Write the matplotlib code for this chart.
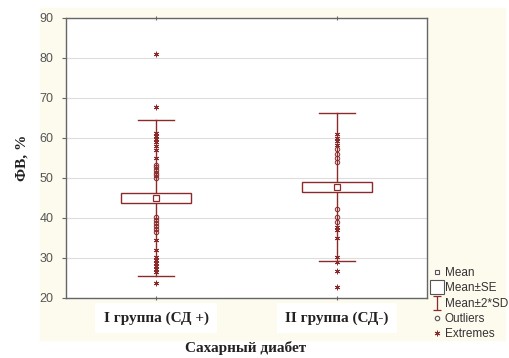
import numpy as np
import matplotlib.pyplot as plt
from matplotlib.patches import Rectangle
from matplotlib.lines import Line2D
from matplotlib.path import Path

groups = ["I группа (СД +)", "II группа (СД-)"]
means = [45.0, 47.8]
se = [1.15, 1.2]
sd2 = [19.6, 18.5]

outliers_1 = [50.0, 50.7, 51.3, 52.0, 52.7, 53.3, 36.6, 37.3, 38.0, 38.8, 39.5, 40.3]
extremes_1 = [81.0, 67.8, 61.3, 60.5, 59.8, 59.0, 58.0, 57.0, 55.0,
              34.5, 32.0, 30.3, 29.5, 28.8, 28.0, 27.3, 26.6, 23.8]
outliers_2 = [54.0, 55.0, 56.0, 57.2, 42.2, 40.3, 39.0]
extremes_2 = [61.0, 60.0, 59.2, 58.3, 37.7, 37.0, 34.9, 30.2, 29.0, 26.8, 22.8]

outliers = [outliers_1, outliers_2]
extremes = [extremes_1, extremes_2]

red = "#8b2a2a"
gray = "#555555"
serif = ["Liberation Serif", "DejaVu Serif"]
sans = ["Liberation Sans", "DejaVu Sans"]

fig = plt.figure(figsize=(5.09, 3.58), dpi=100)
fig.patch.set_facecolor("white")
bg = Rectangle((40/509, 18/358), 465/509, 332/358,
               transform=fig.transFigure, color="#fdfaee", zorder=-10)
fig.add_artist(bg)
ax = fig.add_axes([66/509, 60/358, 361/509, 280/358])
ax.set_facecolor("white")
ax.set_zorder(1)

asterisk = (6, 2, 0)
bw = 0.195
cw = 0.1
for i in range(2):
    x = i + 1
    lo, hi = means[i] - sd2[i], means[i] + sd2[i]
    ax.plot([x, x], [lo, hi], color=red, lw=1.0, zorder=2)
    ax.plot([x - cw, x + cw], [lo, lo], color=red, lw=1.0, zorder=2)
    ax.plot([x - cw, x + cw], [hi, hi], color=red, lw=1.0, zorder=2)
    ax.add_patch(Rectangle((x - bw, means[i] - se[i]), 2 * bw, 2 * se[i],
                           facecolor="white", edgecolor=red, lw=1.0, zorder=3))
    ax.plot([x], [means[i]], marker="s", ms=4.5, mfc="white", mec=red, mew=0.9, zorder=4)
    ax.plot([x] * len(outliers[i]), outliers[i], ls="none", marker="o", ms=3.2,
            mfc="none", mec=red, mew=0.7, zorder=3)
    ax.plot([x] * len(extremes[i]), extremes[i], ls="none", marker=asterisk, ms=4,
            color=red, mew=0.6, zorder=3)

ax.set_xlim(0.5, 2.5)
ax.set_ylim(20, 90)
ax.set_yticks(np.arange(20, 91, 10))
ax.set_xticks([1, 2])
ax.set_xticklabels(groups, family=serif, fontweight="bold", fontsize=11, color="#222222")
for t in ax.get_xticklabels():
    t.set_bbox(dict(facecolor="white", edgecolor="none", pad=6))
for t in ax.get_yticklabels():
    t.set_family(sans)
ax.yaxis.grid(True, color="#dddddd", lw=0.8)
ax.set_axisbelow(True)
for s in ax.spines.values():
    s.set_color("#666666")
    s.set_linewidth(1.0)
ax.tick_params(axis="y", colors="#666666", labelcolor=gray, labelsize=9, length=3, width=0.8, pad=6)
ax.tick_params(axis="x", length=3, width=0.8, colors="#666666", labelcolor="#222222",
               direction="inout", top=True, pad=8)

fig.text(22/509, 200/358, "ФВ, %", family=serif, fontweight="bold", fontsize=11,
         color="#222222", rotation=90, ha="center", va="center")
fig.text(246/509, 10/358, "Сахарный диабет", family=serif, fontweight="bold",
         fontsize=11, color="#222222", ha="center", va="center")

ibeam = Path([(-0.6, 1), (0.6, 1), (0, 1), (0, -1), (-0.6, -1), (0.6, -1)],
             [Path.MOVETO, Path.LINETO, Path.MOVETO, Path.LINETO, Path.MOVETO, Path.LINETO])
handles = [
    Line2D([], [], ls="none", marker="s", ms=3.5, mfc="white", mec=gray, mew=0.8),
    Line2D([], [], ls="none", marker="s", ms=10, mfc="white", mec=gray, mew=0.8),
    Line2D([], [], ls="none", marker=ibeam, ms=10, mec=red, mew=0.9),
    Line2D([], [], ls="none", marker="o", ms=3.2, mfc="none", mec=gray, mew=0.8),
    Line2D([], [], ls="none", marker=asterisk, ms=4, mec=red, mew=0.7),
]
labels = ["Mean", "Mean±SE", "Mean±2*SD", "Outliers", "Extremes"]
leg = fig.legend(handles, labels, loc="upper left", bbox_to_anchor=(431/509, 92/358),
                 frameon=False, prop={"family": sans, "size": 8.5}, handlelength=0.8,
                 handletextpad=0.25, labelspacing=0.28, borderpad=0.1, borderaxespad=0)
for t in leg.get_texts():
    t.set_color("#333333")

fig.savefig("out.png", dpi=100, facecolor=fig.get_facecolor())
